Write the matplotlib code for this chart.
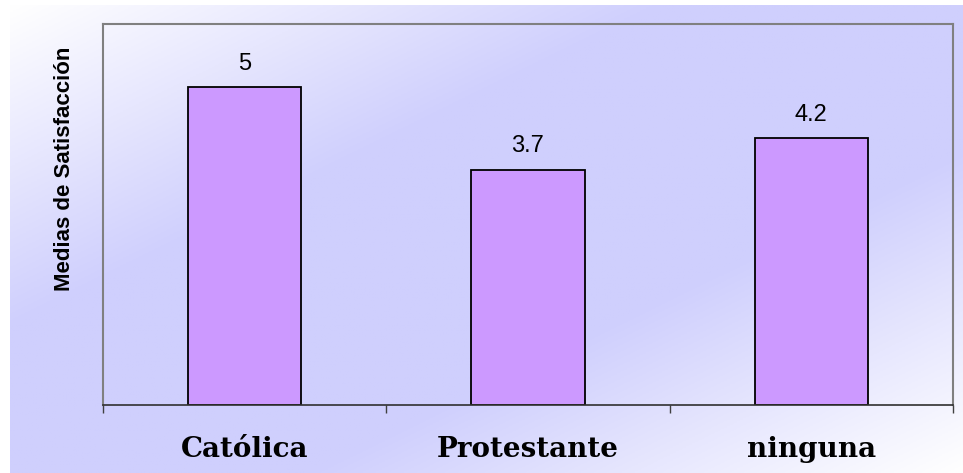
import numpy as np
import matplotlib
matplotlib.use("Agg")
import matplotlib.pyplot as plt
from matplotlib.colors import LinearSegmentedColormap

categories = ["Católica", "Protestante", "ninguna"]
means = [5, 3.7, 4.2]
value_labels = ["5", "3.7", "4.2"]

fig = plt.figure(figsize=(9.63, 4.73), dpi=100)

# diagonal white -> lavender -> white background
bg = fig.add_axes([10 / 963, 0, 953 / 963, 468 / 473], zorder=0)
yy, xx = np.mgrid[0:1:300j, 0:1:600j]
t = (xx + yy) / 2
shade = np.clip(1.45 * (1 - np.abs(2 * t - 1)), 0, 1)
cmap = LinearSegmentedColormap.from_list("lav", ["#ffffff", "#cfcffd"])
bg.imshow(shade, cmap=cmap, aspect="auto", extent=[0, 1, 1, 0], vmin=0, vmax=1)
bg.axis("off")

ax = fig.add_axes([103 / 963, 1 - 405 / 473, 850 / 963, 381 / 473], zorder=1)
ax.patch.set_alpha(0)

x = np.arange(len(categories))
ax.bar(x, means, width=0.4, color="#cc99ff", edgecolor="black", linewidth=1.3, zorder=2)
for xi, v, lab in zip(x, means, value_labels):
    ax.text(xi, v + 0.2, lab, ha="center", va="bottom", fontsize=17,
            family="Liberation Sans")

ax.set_xlim(-0.5, 2.5)
ax.set_ylim(0, 6)
ax.set_yticks([])

# ticks at category boundaries, labels at centers
ax.set_xticks([-0.5, 0.5, 1.5, 2.5])
ax.set_xticklabels([])
ax.tick_params(axis="x", which="major", direction="out", length=6, width=1, color="#404040")
ax.set_xticks(x, minor=True)
ax.set_xticklabels(categories, minor=True, fontsize=20, fontweight="bold", family="DejaVu Serif")
ax.tick_params(axis="x", which="minor", length=0, pad=22)

for side in ["left", "top", "right"]:
    ax.spines[side].set_color("#808080")
    ax.spines[side].set_linewidth(1.5)
ax.spines["bottom"].set_color("#303030")
ax.spines["bottom"].set_linewidth(1.2)

ax.set_ylabel("Medias de Satisfacción", fontsize=16, fontweight="bold",
              family="Liberation Sans")
ax.yaxis.set_label_coords(-0.033, 0.62)

fig.savefig("out.png", dpi=100)
